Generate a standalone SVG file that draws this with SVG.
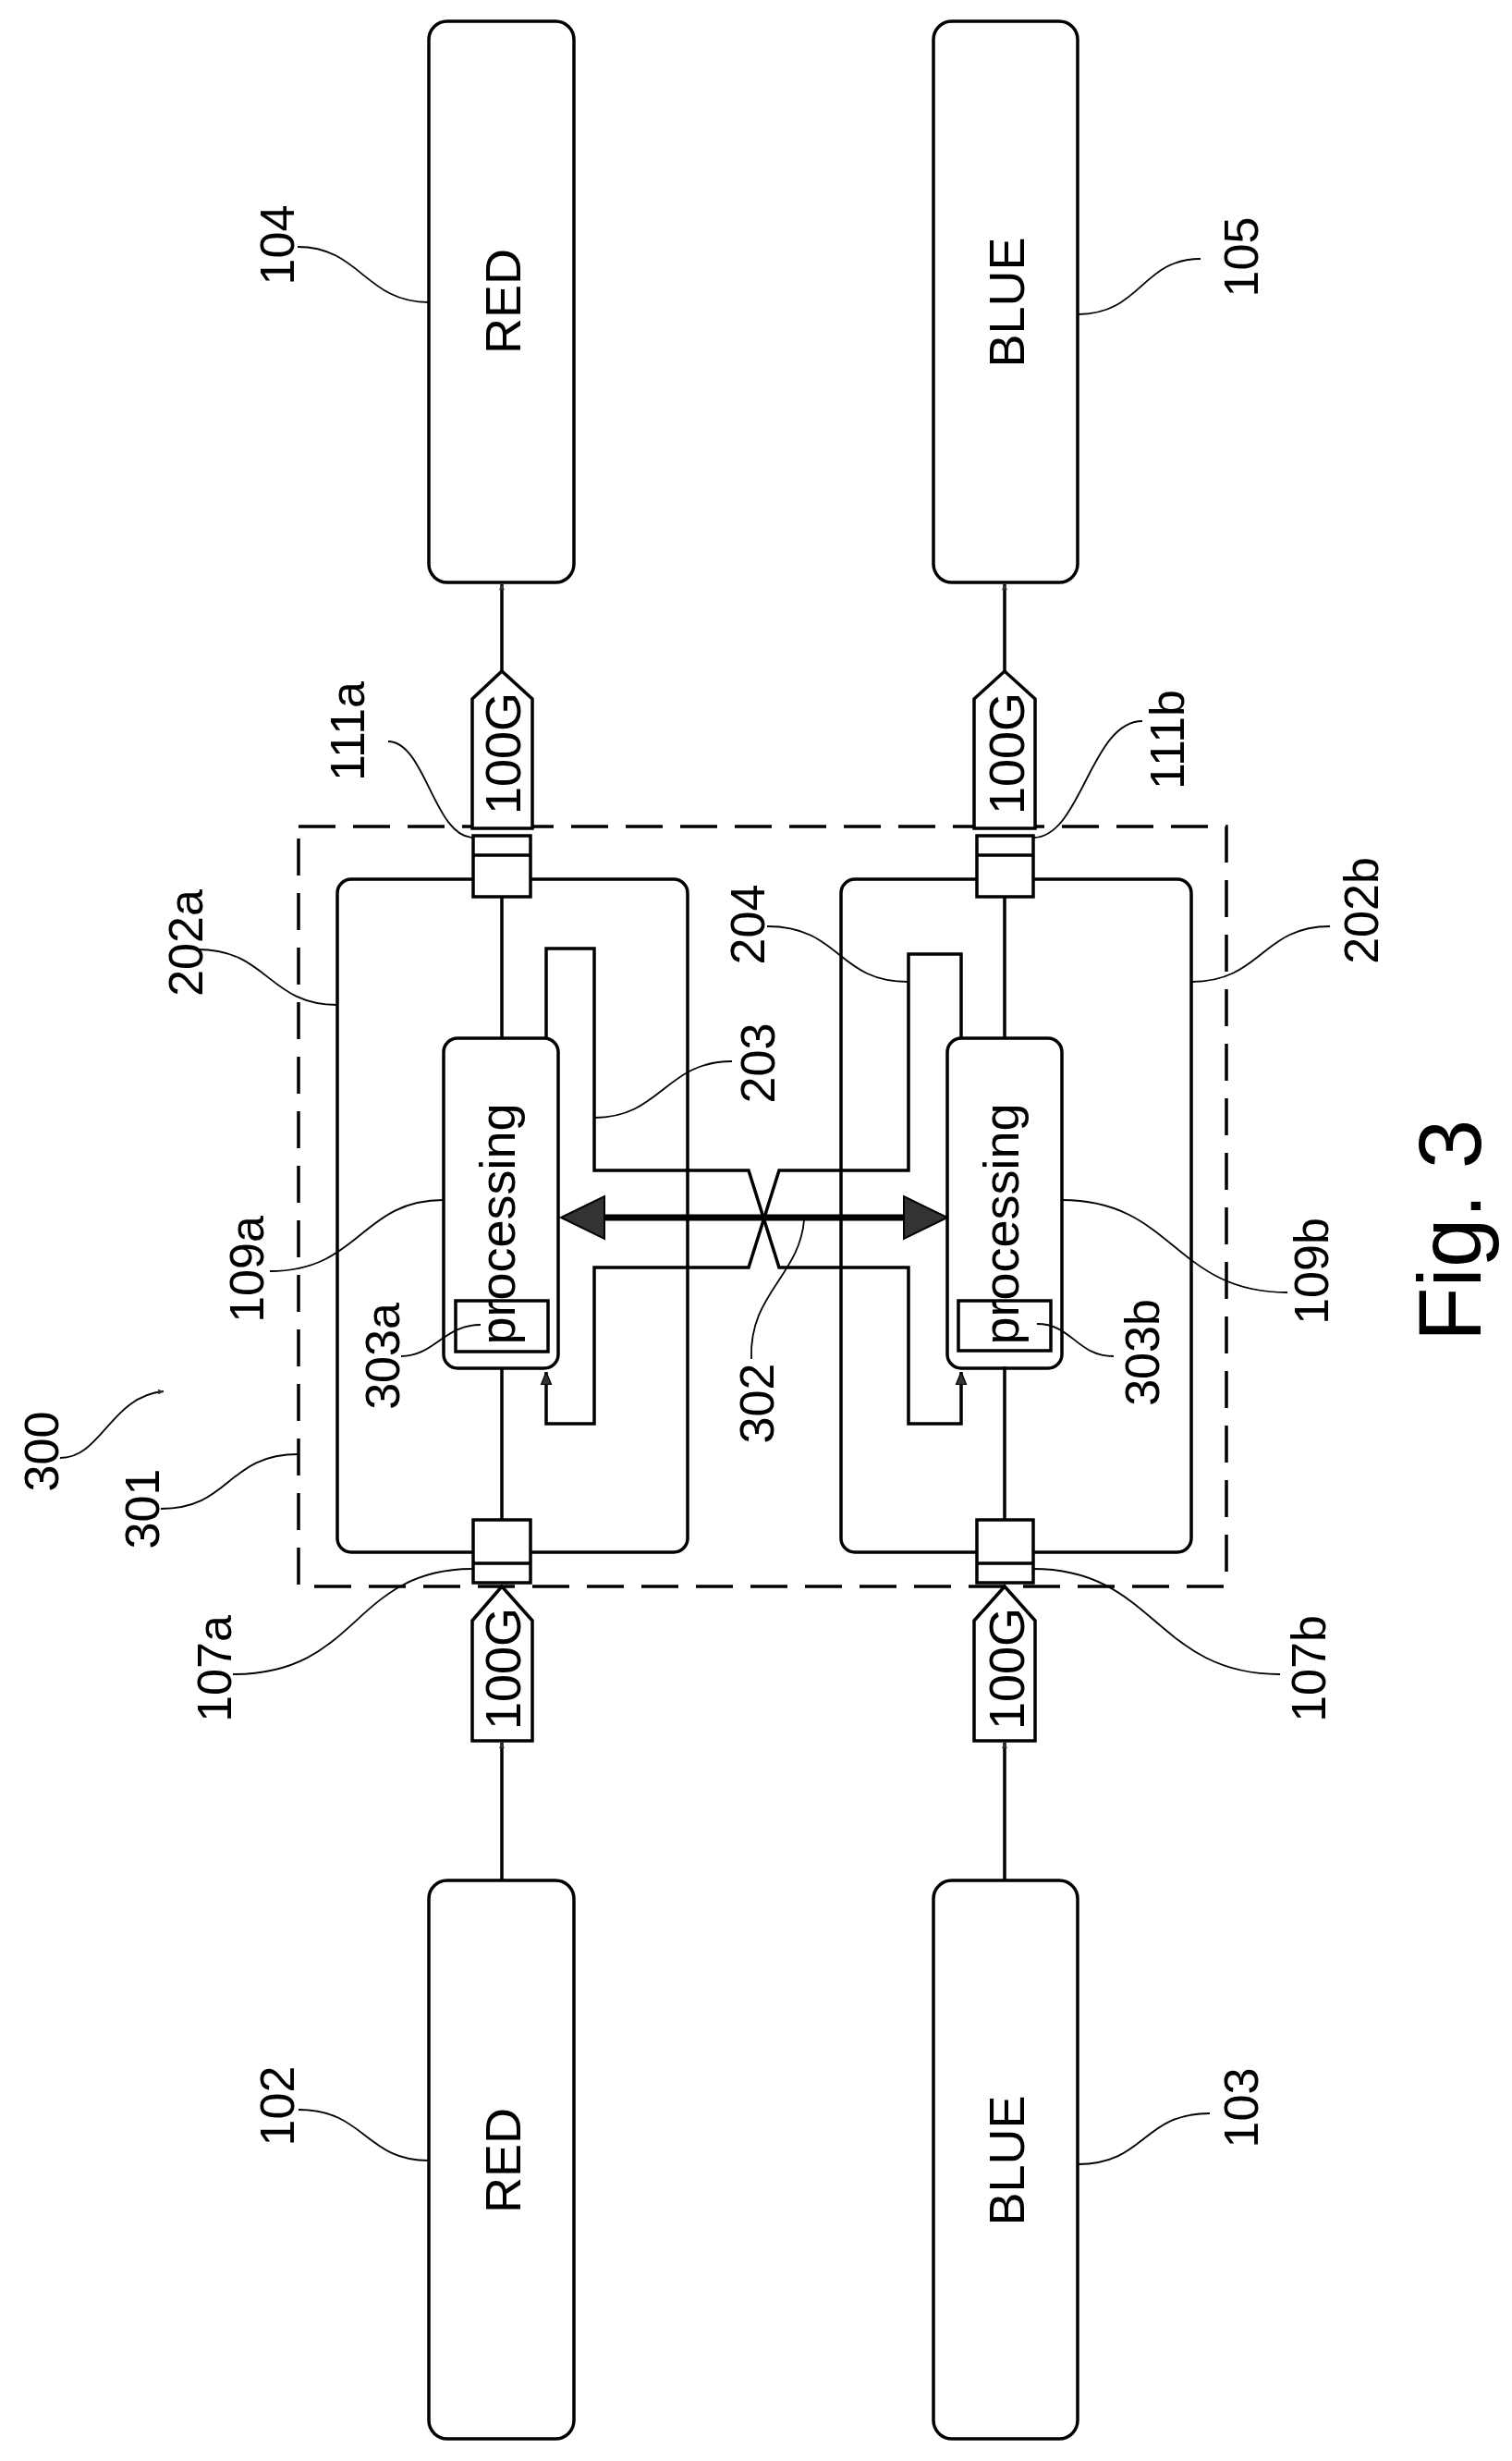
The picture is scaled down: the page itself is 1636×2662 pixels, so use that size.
<svg xmlns="http://www.w3.org/2000/svg" width="1636" height="2662" viewBox="0 0 1636 2662">
<defs>
<style>
.b{fill:#fff;stroke:#000;stroke-width:3.5}
.n{fill:none;stroke:#000;stroke-width:3.5}
.l{fill:none;stroke:#000;stroke-width:1.8}
.d{fill:none;stroke:#000;stroke-width:3.5;stroke-dasharray:40 19}
.t{font-family:"Liberation Sans",Arial,sans-serif;fill:#000;text-anchor:middle}
.big{font-size:54px}
.lab{font-size:52px}
.ah{fill:#333;stroke:#000;stroke-width:2}
</style>
<marker id="sa" viewBox="0 0 10 10" refX="10" refY="5" markerWidth="6" markerHeight="6" orient="auto" markerUnits="userSpaceOnUse">
<path d="M0,0 L10,5 L0,10 z" fill="#333"/>
</marker>
<marker id="s" viewBox="0 0 10 10" refX="10" refY="5" markerWidth="14" markerHeight="14" orient="auto" markerUnits="userSpaceOnUse">
<path d="M0,1 L10,5 L0,9 z" fill="#333" stroke="#000" stroke-width="1"/>
</marker>
</defs>
<g id="n104"><rect class="b" x="464" y="23" width="157" height="607" rx="20"/><text class="t big" transform="translate(563,326) rotate(-90)">RED</text></g>
<g id="n105"><rect class="b" x="1010" y="23" width="156" height="607" rx="20"/><text class="t big" transform="translate(1108,327) rotate(-90)">BLUE</text></g>
<g id="n102"><rect class="b" x="464" y="2034" width="157" height="604" rx="20"/><text class="t big" transform="translate(563,2337) rotate(-90)">RED</text></g>
<g id="n103"><rect class="b" x="1010" y="2034" width="156" height="604" rx="20"/><text class="t big" transform="translate(1108,2337) rotate(-90)">BLUE</text></g>
<g id="n301"><rect class="d" x="323" y="894" width="1004" height="822"/></g>
<g id="n202a"><rect class="n" x="365" y="951" width="379" height="728" rx="15"/></g>
<g id="n202b"><rect class="n" x="910" y="951" width="379" height="728" rx="15"/></g>
<g id="n109a"><rect class="b" x="480" y="1123" width="124" height="357" rx="15"/><text class="t big" transform="translate(557,1324) rotate(-90)">processing</text></g>
<g id="n109b"><rect class="b" x="1025" y="1123" width="124" height="357" rx="15"/><text class="t big" transform="translate(1102,1324) rotate(-90)">processing</text></g>
<g id="n303a"><rect class="n" x="493" y="1407" width="100" height="55"/></g>
<g id="n303b"><rect class="n" x="1037" y="1407" width="100" height="54"/></g>
<g id="n111a"><rect class="b" x="512" y="904" width="62" height="66"/><line class="n" x1="512" y1="925" x2="574" y2="925"/></g>
<g id="n111b"><rect class="b" x="1057" y="904" width="61" height="66"/><line class="n" x1="1057" y1="925" x2="1118" y2="925"/></g>
<g id="n107a"><rect class="b" x="512" y="1644" width="62" height="68"/><line class="n" x1="512" y1="1691" x2="574" y2="1691"/></g>
<g id="n107b"><rect class="b" x="1057" y="1644" width="61" height="68"/><line class="n" x1="1057" y1="1691" x2="1118" y2="1691"/></g>
<g id="g100a-out"><polygon class="b" points="511,896 511,756 543,726 576,756 576,896"/><text class="t big" transform="translate(563,815) rotate(-90)">100G</text></g>
<g id="g100b-out"><polygon class="b" points="1054,896 1054,756 1087,726 1120,756 1120,896"/><text class="t big" transform="translate(1108,815) rotate(-90)">100G</text></g>
<g id="g100a-in"><polygon class="b" points="511,1883 511,1753 543,1716 576,1753 576,1883"/><text class="t big" transform="translate(563,1805) rotate(-90)">100G</text></g>
<g id="g100b-in"><polygon class="b" points="1054,1883 1054,1753 1087,1716 1120,1753 1120,1883"/><text class="t big" transform="translate(1108,1805) rotate(-90)">100G</text></g>
<g id="connectors">
<line class="n" x1="543" y1="726" x2="543" y2="632" marker-end="url(#sa)" stroke-width="2.5"/>
<line class="n" x1="1087" y1="726" x2="1087" y2="632" marker-end="url(#sa)" stroke-width="2.5"/>
<line class="n" x1="543" y1="2034" x2="543" y2="1885" marker-end="url(#sa)" stroke-width="2.5"/>
<line class="n" x1="1087" y1="2034" x2="1087" y2="1885" marker-end="url(#sa)" stroke-width="2.5"/>
<line class="n" x1="543" y1="970" x2="543" y2="1123"/>
<line class="n" x1="543" y1="1480" x2="543" y2="1644"/>
<line class="n" x1="1087" y1="970" x2="1087" y2="1123"/>
<line class="n" x1="1087" y1="1478" x2="1087" y2="1644"/>
<polyline class="n" points="591,1123 591,1026 643,1026 643,1266 810,1266 843,1371 983,1371 983,1540 1040,1540 1040,1484" marker-end="url(#s)"/>
<polyline class="n" points="1040,1123 1040,1032 983,1032 983,1266 843,1266 810,1371 643,1371 643,1540 591,1540 591,1484" marker-end="url(#s)"/>
<line stroke="#000" stroke-width="7" x1="650" y1="1317" x2="982" y2="1317"/>
<polygon class="ah" points="607,1317 654,1294 654,1340"/>
<polygon class="ah" points="1025,1317 978,1294 978,1340"/>
</g>
<g id="labels">
<text class="t lab" transform="translate(318,265) rotate(-90)">104</text>
<path class="l" d="M322,267 C390,267 395,327 464,327"/>
<text class="t lab" transform="translate(1361,278) rotate(-90)">105</text>
<path class="l" d="M1166,340 C1235,340 1235,280 1299,280"/>
<text class="t lab" transform="translate(394,791) rotate(-90)">111a</text>
<path class="l" d="M512,906 C470,906 460,802 420,802"/>
<text class="t lab" transform="translate(1281,800) rotate(-90)">111b</text>
<path class="l" d="M1118,906 C1170,906 1180,780 1236,780"/>
<text class="t lab" transform="translate(219,1020) rotate(-90)">202a</text>
<path class="l" d="M214,1027 C290,1027 290,1087 365,1087"/>
<text class="t lab" transform="translate(827,1000) rotate(-90)">204</text>
<path class="l" d="M830,1002 C910,1002 905,1062 983,1062"/>
<text class="t lab" transform="translate(1491,985) rotate(-90)">202b</text>
<path class="l" d="M1439,1002 C1365,1002 1365,1062 1289,1062"/>
<text class="t lab" transform="translate(838,1150) rotate(-90)">203</text>
<path class="l" d="M792,1148 C720,1148 715,1209 643,1209"/>
<text class="t lab" transform="translate(285,1373) rotate(-90)">109a</text>
<path class="l" d="M292,1375 C390,1375 390,1298 480,1298"/>
<text class="t lab" transform="translate(432,1467) rotate(-90)">303a</text>
<path class="l" d="M434,1467 C470,1467 480,1433 520,1433"/>
<text class="t lab" transform="translate(837,1518) rotate(-90)">302</text>
<path class="l" d="M813,1470 C810,1400 865,1380 870,1320"/>
<text class="t lab" transform="translate(1254,1463) rotate(-90)">303b</text>
<path class="l" d="M1122,1432 C1160,1432 1165,1467 1205,1467"/>
<text class="t lab" transform="translate(1437,1375) rotate(-90)">109b</text>
<path class="l" d="M1149,1298 C1270,1298 1270,1398 1393,1398"/>
<text class="t lab" transform="translate(250,1805) rotate(-90)">107a</text>
<path class="l" d="M252,1811 C390,1811 380,1697 512,1697"/>
<text class="t lab" transform="translate(1434,1805) rotate(-90)">107b</text>
<path class="l" d="M1385,1811 C1250,1811 1250,1697 1118,1697"/>
<text class="t lab" transform="translate(318,2278) rotate(-90)">102</text>
<path class="l" d="M323,2282 C395,2282 395,2337 464,2337"/>
<text class="t lab" transform="translate(1361,2280) rotate(-90)">103</text>
<path class="l" d="M1309,2286 C1235,2286 1240,2341 1166,2341"/>
<text class="t lab" transform="translate(172,1632) rotate(-90)">301</text>
<path class="l" d="M174,1632 C250,1632 245,1573 323,1573"/>
<text class="t lab" transform="translate(63,1570) rotate(-90)">300</text>
<path class="l" d="M65,1577 C110,1577 120,1510 177,1505" marker-end="url(#sa)"/>
<text class="t" font-size="96" transform="translate(1602,1331) rotate(-90)">Fig. 3</text>
</g>
</svg>
